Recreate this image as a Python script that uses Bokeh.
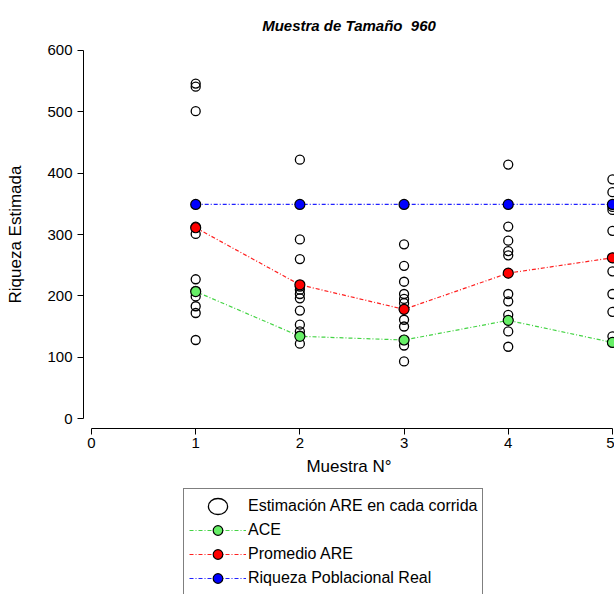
from bokeh.plotting import figure
from bokeh.layouts import column
from bokeh.models import Legend, LegendItem, Range1d, FixedTicker
from bokeh.embed import file_html
from bokeh.resources import INLINE

# ---- data ----
muestras = [1, 2, 3, 4, 5]
corrida_m1 = [546, 541, 501, 313, 301, 227, 208, 199, 183, 172, 128]
corrida_m2 = [422, 292, 260, 215, 210, 203, 196, 176, 153, 142, 135, 122]
corrida_m3 = [284, 249, 223, 203, 195, 188, 178, 161, 150, 128, 119, 93]
corrida_m4 = [414, 313, 290, 273, 266, 237, 203, 191, 169, 160, 142, 117]
corrida_m5 = [390, 369, 345, 340, 306, 262, 240, 203, 174, 134, 124]
ace = [207, 134, 128, 160, 124]
promedio_are = [311, 218, 178, 237, 262]
riqueza_real = [349, 349, 349, 349, 349]
x_ticks = [0, 1, 2, 3, 4, 5]
y_ticks = [0, 100, 200, 300, 400, 500, 600]
legend_labels = ["Estimación ARE en cada corrida", "ACE", "Promedio ARE",
                 "Riqueza Poblacional Real"]

corridas = [corrida_m1, corrida_m2, corrida_m3, corrida_m4, corrida_m5]
cx, cy = [], []
for m, vals in zip(muestras, corridas):
    cx += [m] * len(vals)
    cy += vals

FONT = "Liberation Sans"
DASH = "4 2 1 2"
series_vals = [ace, promedio_are, riqueza_real]
line_colors = ["#44d444", "#ff2020", "#2020ff"]
fill_colors = ["#66ee66", "#ff0000", "#0000ff"]

# ---------------- main plot ----------------
p = figure(width=614, height=487, output_backend="svg", toolbar_location=None,
           x_range=Range1d(-0.077, 5.02), y_range=Range1d(-16.3, 616.3),
           min_border_left=83, min_border_right=0, min_border_top=40,
           min_border_bottom=59, outline_line_color=None,
           background_fill_color="white", border_fill_color="white")
p.grid.visible = False

p.title.text = "Muestra de Tamaño\u00a0 960"
p.title.align = "center"
p.title.text_font = FONT
p.title.text_font_style = "bold italic"
p.title.text_font_size = "15px"
p.title.text_color = "black"
p.title.standoff = 14

for ax in (p.xaxis[0], p.yaxis[0]):
    ax.axis_line_color = "black"
    ax.axis_line_width = 1
    ax.major_tick_line_color = "black"
    ax.major_tick_out = 6
    ax.major_tick_in = 0
    ax.minor_tick_line_color = None
    ax.major_label_text_font = FONT
    ax.major_label_text_font_size = "15px"
    ax.major_label_text_color = "black"
    ax.axis_label_text_font = FONT
    ax.axis_label_text_font_size = "17px"
    ax.axis_label_text_font_style = "normal"
    ax.axis_label_text_color = "black"

p.xaxis.bounds = (0, 5)
p.yaxis.bounds = (0, 600)
p.xaxis.ticker = FixedTicker(ticks=x_ticks)
p.yaxis.ticker = FixedTicker(ticks=y_ticks)
p.xaxis.axis_label = "Muestra N°"
p.yaxis.axis_label = "Riqueza Estimada"
p.xaxis.major_label_standoff = 3
p.xaxis.axis_label_standoff = 6
p.yaxis.major_label_standoff = 5
p.yaxis.axis_label_standoff = 19

p.scatter(cx, cy, size=9, fill_color=None, line_color="black", line_width=1.3)
for vals, lc, fc in zip(series_vals, line_colors, fill_colors):
    p.line(muestras, vals, line_color=lc, line_width=1.2, line_dash=DASH)
    p.scatter(muestras, vals, size=10, fill_color=fc, line_color="black",
              line_width=1.2)

# ---------------- legend strip ----------------
q = figure(width=614, height=107, output_backend="svg", toolbar_location=None,
           x_range=Range1d(0, 1), y_range=Range1d(0, 1),
           min_border=0, outline_line_color=None,
           background_fill_color="white", border_fill_color="white")
q.axis.visible = False
q.grid.visible = False

r_leg = q.ellipse(x=[-10], y=[-10], width=24, height=20,
                  width_units="screen", height_units="screen",
                  fill_color=None, line_color="black", line_width=1.3)
items = [LegendItem(label=legend_labels[0], renderers=[r_leg])]
for name, lc, fc in zip(legend_labels[1:], line_colors, fill_colors):
    rl = q.line([-10, -9], [-10, -10], line_color=lc, line_width=1.2,
                line_dash=DASH)
    rs = q.scatter([-10], [-10], size=10, fill_color=fc, line_color="black",
                   line_width=1.2)
    items.append(LegendItem(label=name, renderers=[rl, rs]))

legend = Legend(items=items, location=(100, -2), orientation="vertical",
                glyph_width=57, glyph_height=24, label_height=24, spacing=0,
                padding=5, margin=0, label_standoff=2,
                label_text_font=FONT, label_text_font_size="16px",
                label_text_color="black",
                border_line_color="black", border_line_width=1.5,
                background_fill_color="white", background_fill_alpha=1)
q.add_layout(legend, "center")

layout = column(p, q, spacing=0)
open("out.html", "w").write(file_html(layout, INLINE))
